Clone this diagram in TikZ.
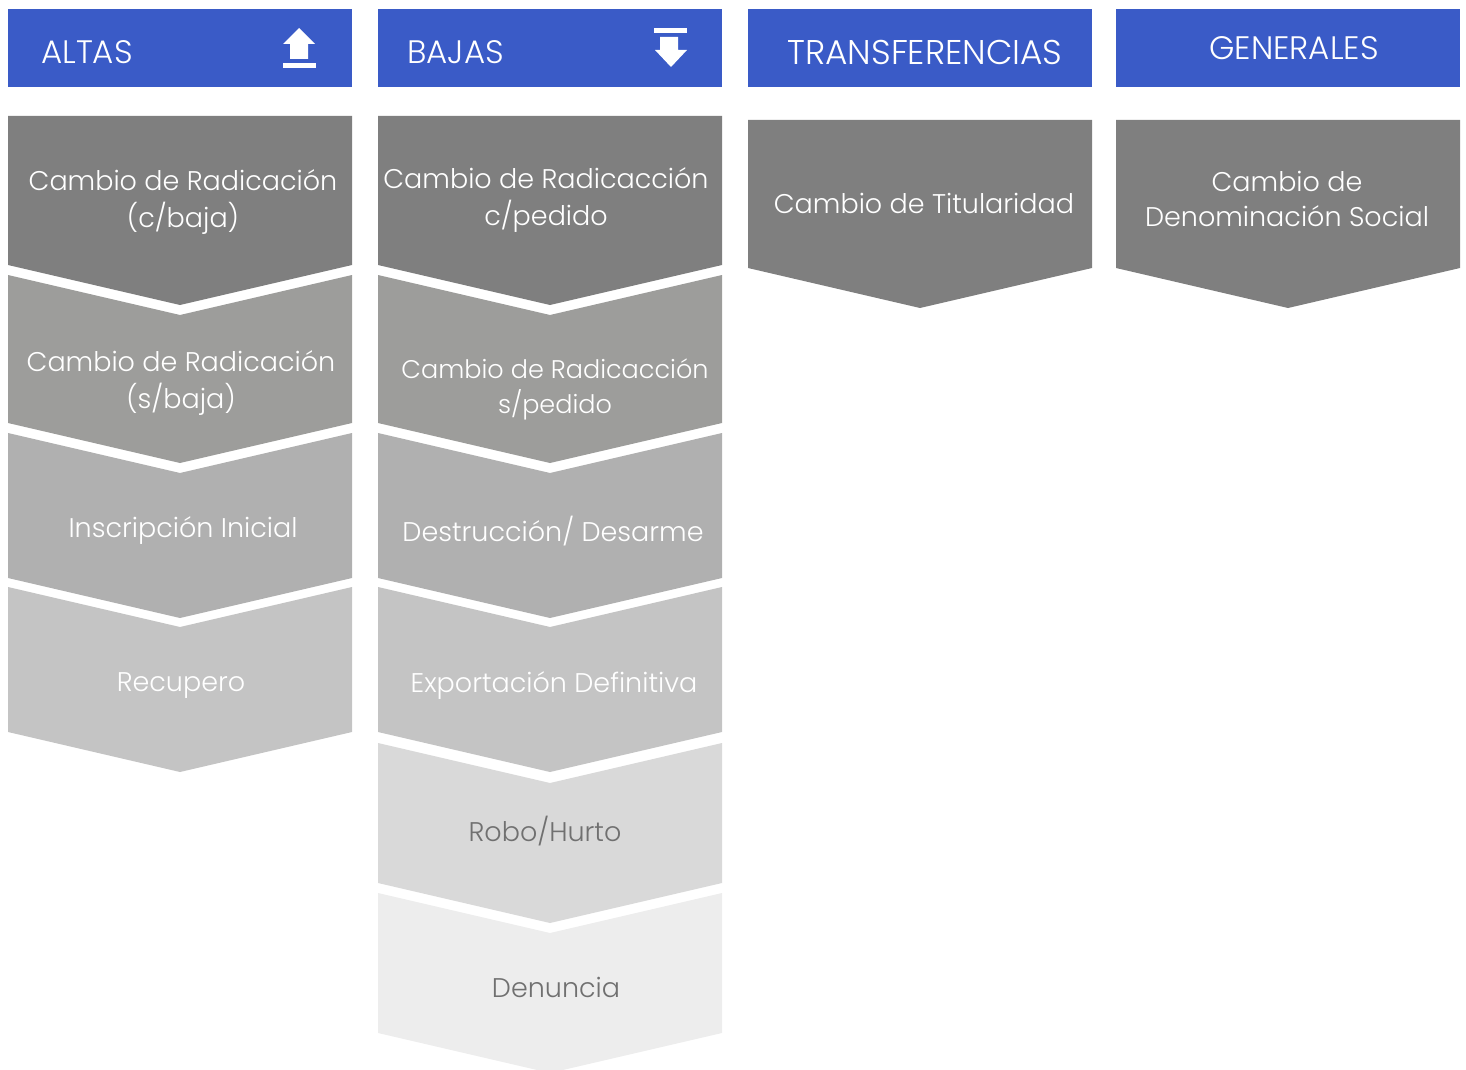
\documentclass[tikz,border=0pt]{standalone}
\usepackage{fontspec}
\setmainfont{Poppins}[UprightFont=* Light]
\usetikzlibrary{positioning}

\definecolor{hdrblue}{RGB}{58,91,199}
\definecolor{lvla}{RGB}{127,127,127}
\definecolor{lvlb}{RGB}{157,157,155}
\definecolor{lvlc}{RGB}{176,176,176}
\definecolor{lvld}{RGB}{196,196,196}
\definecolor{lvle}{RGB}{217,217,217}
\definecolor{lvlf}{RGB}{237,237,237}
\definecolor{txtgrey}{RGB}{112,112,112}

\begin{document}
\begin{tikzpicture}[x=1pt, y=-1pt,
    every node/.style={inner sep=0pt, align=center},
    lbl/.style={text=white, font=\fontsize{27}{37}\selectfont},
    dlbl/.style={text=txtgrey, font=\fontsize{27}{37}\selectfont},
    hdrtext/.style={text=white, font=\fontsize{32.5}{36}\selectfont}
    ]
\useasboundingbox (0,0) rectangle (1466,1070);
% headers
\foreach \x in {8,378,748,1116}
  \fill[hdrblue] (\x,9) rectangle ++(344,78);
\node[hdrtext, anchor=west] (altas) at (41,52) {ALTAS};
\node[hdrtext, anchor=west] (bajas) at (407,52) {BAJAS};
\node[hdrtext] (transf) at (925,52) {\resizebox{275pt}{!}{TRANSFERENCIAS}};
\node[hdrtext] (gen) at (1294,48) {GENERALES};
% icons
\fill[white] (299,28) -- (315,44) -- (308,44) -- (308,59) -- (290,59) -- (290,44) -- (283,44) -- cycle;
\fill[white] (283,63) rectangle (316,68);
\fill[white] (654,28) rectangle (687,33);
\fill[white] (660,37) -- (678,37) -- (678,50) -- (687,50) -- (671,67) -- (655,50) -- (660,50) -- cycle;

% first chevrons (flat top)
\foreach \x/\t/\b in {8/116/265, 378/116/265, 748/120/268, 1116/120/268}
  \fill[lvla] (\x,\t) -- (\x+344,\t) -- (\x+344,\b) -- (\x+172,\b+40) -- (\x,\b) -- cycle;
% following chevrons
\foreach \x/\t/\b/\c in {8/275/423/lvlb, 8/433/578/lvlc, 8/587/732/lvld,
    378/275/423/lvlb, 378/433/578/lvlc, 378/587/732/lvld,
    378/743/883/lvle, 378/893/1033/lvlf}
  \fill[\c] (\x,\t) -- (\x+172,\t+40) -- (\x+344,\t) -- (\x+344,\b) -- (\x+172,\b+40) -- (\x,\b) -- cycle;

% ALTAS
\node[lbl] (a1) at (183,202) {Cambio de Radicación\\(c/baja)};
\node[lbl] (a2) at (181,383) {Cambio de Radicación\\(s/baja)};
\node[lbl] (a3) at (183,531) {Inscripción Inicial};
\node[lbl] (a4) at (181,686) {Recupero};
% BAJAS
\node[lbl] (b1) at (546,200) {Cambio de Radicacción\\c/pedido};
\node[lbl, font=\fontsize{25.5}{35}\selectfont] (b2) at (555,389) {Cambio de Radicacción\\s/pedido};
\node[lbl] (b3) at (553,531) {Destrucción/ Desarme};
\node[lbl] (b4) at (554,686) {Exportación Definitiva};
\node[dlbl] (b5) at (545,831) {Robo/Hurto};
\node[dlbl] (b6) at (556,987) {Denuncia};
% TRANSFERENCIAS, GENERALES
\node[lbl] (t1) at (924,203) {Cambio de Titularidad};
\node[lbl, font=\fontsize{27}{35}\selectfont] (g1) at (1287,199) {Cambio de\\Denominación Social};
\end{tikzpicture}
\end{document}
